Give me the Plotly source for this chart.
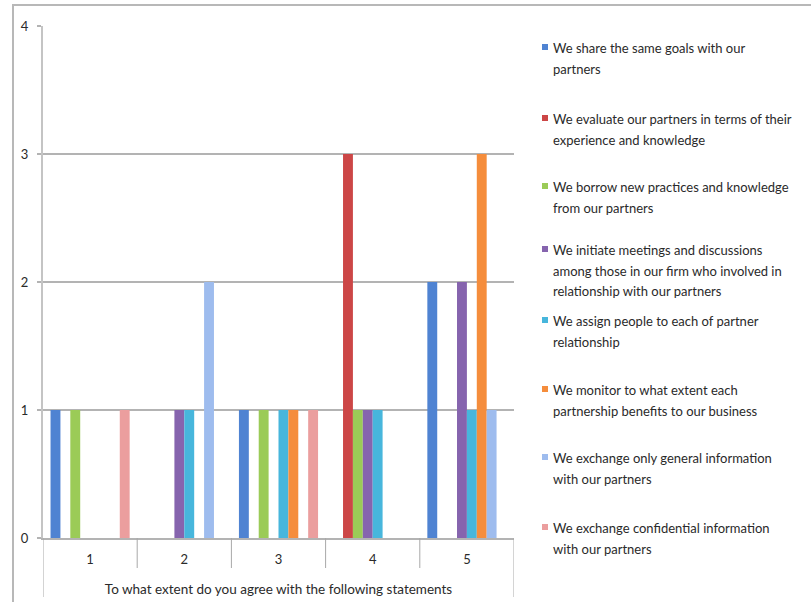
import plotly.graph_objects as go

# Response scale (1 = lowest agreement, 5 = highest)
categories = ["1", "2", "3", "4", "5"]

statements = [
    "We share the same goals with our partners",
    "We evaluate our partners in terms of their experience and knowledge",
    "We borrow new practices and knowledge from our partners",
    "We initiate meetings and discussions among those in our firm who involved in relationship with our partners",
    "We assign people to each of partner relationship",
    "We monitor to what extent each partnership benefits to our business",
    "We exchange only general information with our partners",
    "We exchange confidential information with our partners",
]

# Wrapped legend text, one list of lines per statement
legend_lines = [
    ["We share the same goals with our", "partners"],
    ["We evaluate our partners in terms of their", "experience and knowledge"],
    ["We borrow new practices and knowledge", "from our partners"],
    ["We initiate meetings and discussions",
     "among those in our firm who involved in",
     "relationship with our partners"],
    ["We assign people to each of partner", "relationship"],
    ["We monitor to what extent each", "partnership benefits to our business"],
    ["We exchange only general information", "with our partners"],
    ["We exchange confidential information", "with our partners"],
]

# Number of respondents per statement at each scale point
share_goals = [1, 0, 1, 0, 2]
evaluate_partners = [0, 0, 0, 3, 0]
borrow_practices = [1, 0, 1, 1, 0]
initiate_meetings = [0, 1, 0, 1, 2]
assign_people = [0, 1, 1, 1, 1]
monitor_benefits = [0, 0, 1, 0, 3]
general_info = [0, 2, 0, 0, 1]
confidential_info = [1, 0, 1, 0, 0]

series_values = [share_goals, evaluate_partners, borrow_practices, initiate_meetings,
                 assign_people, monitor_benefits, general_info, confidential_info]

colors = ["#4f83d2", "#cc4646", "#9bcb57", "#8664ae",
          "#47b6dc", "#f58d3c", "#9ebcee", "#eb9e9e"]

axis_title = "To what extent do you agree with the following statements"

W, H = 811, 602
L, R, T, B = 43, 514, 26, 538          # plot area edges in pixels
FONT = "Lato, 'Open Sans', Arial, sans-serif"
GRID = "#b3b3b3"
TEXT = "#2a2a2a"


def px_x(x):
    return (x - L) / (R - L)


def px_y(y):
    return (B - y) / (B - T)


fig = go.Figure()
x_idx = list(range(len(categories)))
for name, vals, col in zip(statements, series_values, colors):
    fig.add_trace(go.Bar(
        x=x_idx, y=vals, name=name, marker=dict(color=col, line=dict(width=0)),
        showlegend=False,
    ))

shapes = []
# outer chart frame
shapes.append(dict(type="rect", xref="paper", yref="paper",
                   x0=px_x(13), x1=px_x(W + 20), y0=px_y(5), y1=px_y(H + 20),
                   line=dict(color="#b8b8b8", width=2), fillcolor="rgba(0,0,0,0)", layer="below"))
# category separators below the axis
for i in range(len(categories) + 1):
    edge = i in (0, len(categories))
    shapes.append(dict(type="line", xref="x", yref="paper",
                       x0=i - 0.5, x1=i - 0.5, y0=0, y1=px_y(597 if edge else 568),
                       line=dict(color="#a8a8a8", width=1)))

annotations = []
legend_top = [48, 119, 187, 250, 321, 390, 458, 528]
line_step = 20.5
for lines, top, col in zip(legend_lines, legend_top, colors):
    shapes.append(dict(type="rect", xref="paper", yref="paper",
                       x0=px_x(542), x1=px_x(548), y0=px_y(top - 4), y1=px_y(top + 2),
                       line=dict(width=0), fillcolor=col))
    for k, txt in enumerate(lines):
        annotations.append(dict(xref="paper", yref="paper", x=px_x(551), y=px_y(top + k * line_step),
                                xanchor="left", yanchor="middle", showarrow=False, text=txt,
                                font=dict(family=FONT, size=13, color=TEXT)))

fig.update_layout(
    width=W, height=H,
    margin=dict(l=L, r=W - R, t=T, b=H - B, autoexpand=False),
    paper_bgcolor="white", plot_bgcolor="white",
    barmode="group", bargap=0.16, bargroupgap=0,
    font=dict(family=FONT, size=13, color=TEXT),
    shapes=shapes, annotations=annotations,
    xaxis=dict(
        range=[-0.5, len(categories) - 0.5], tickvals=x_idx, ticktext=categories,
        showgrid=False, zeroline=False, showline=True, linecolor=GRID, linewidth=2,
        ticks="", ticklabelstandoff=8, tickfont=dict(size=13, color=TEXT),
        title=dict(text=axis_title, standoff=19, font=dict(size=13.5, color=TEXT)),
        fixedrange=True,
    ),
    yaxis=dict(
        range=[0, 4], tickvals=[0, 1, 2, 3, 4], showgrid=True, gridcolor=GRID, gridwidth=2,
        zeroline=False, showline=True, linecolor="#c4c4c4", linewidth=2,
        ticks="outside", ticklen=4, tickcolor=GRID, tickwidth=2,
        ticklabelstandoff=6, tickfont=dict(size=13, color=TEXT), fixedrange=True,
    ),
)

fig.write_html("out.html")
